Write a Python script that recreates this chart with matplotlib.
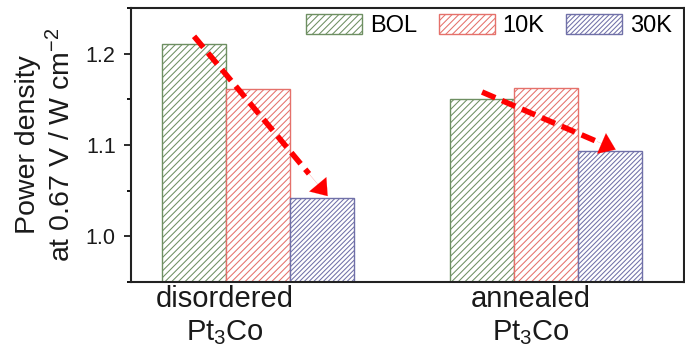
import numpy as np
import matplotlib
matplotlib.use("Agg")
import matplotlib.pyplot as plt
from matplotlib.ticker import MultipleLocator, FormatStrFormatter

plt.rcParams['font.family'] = ['Liberation Sans', 'DejaVu Sans']
plt.rcParams['mathtext.fontset'] = 'custom'
plt.rcParams['mathtext.rm'] = 'Liberation Sans'
plt.rcParams['mathtext.it'] = 'Liberation Sans:italic'
plt.rcParams['hatch.linewidth'] = 0.75

# power density at 0.67 V (W cm-2) after 0 / 10k / 30k cycles
samples = ['disordered\nPt$_3$Co', 'annealed\nPt$_3$Co']
stages = ['BOL', '10K', '30K']
bol = [1.211, 1.150]
k10 = [1.161, 1.162]
k30 = [1.042, 1.093]

colors = ['#6e8f62', '#e5716b', '#7070a8']
hatches = ['/////', '/////', '///////']
label_pos = [-0.115, 0.948]

fig = plt.figure(figsize=(6.85, 3.57), dpi=100)
ax = fig.add_axes([0.1912, 0.2101, 0.8073, 0.7675])

x = np.arange(len(samples))
w = 0.222
series = [bol, k10, k30]
for i, vals in enumerate(series):
    ax.bar(x + (i - 1) * w, vals, w, bottom=0, facecolor='white',
           edgecolor=colors[i], hatch=hatches[i], linewidth=1.0,
           label=stages[i])

# red dashed trend arrows from BOL to 30K in each group
for j in range(len(samples)):
    x0, y0 = x[j] - w, bol[j] + 0.008
    x1, y1 = x[j] + w + 0.02, k30[j] + 0.002
    fx = x0 + (x1 - x0) * 0.86
    fy = y0 + (y1 - y0) * 0.86
    ax.plot([x0, fx], [y0, fy], color='#ff0000', lw=4,
            dashes=(2.6, 1.3), solid_capstyle='butt', zorder=5)
    ax.annotate('', xy=(x1, y1), xytext=(fx, fy),
                arrowprops=dict(arrowstyle='-|>,head_length=1.1,head_width=0.8',
                                color='#ff0000', lw=0.1, shrinkA=0, shrinkB=0),
                zorder=6)

ax.set_ylim(0.95, 1.25)
ax.set_xlim(-0.441, 1.479)
ax.yaxis.set_major_locator(MultipleLocator(0.1))
ax.yaxis.set_minor_locator(MultipleLocator(0.05))
ax.yaxis.set_major_formatter(FormatStrFormatter('%.1f'))
ax.tick_params(axis='y', which='major', length=5, width=1.3, pad=6,
               labelsize=15.5, colors='#1a1a1a')
ax.tick_params(axis='y', which='minor', length=3, width=1.3)
ax.set_xticks(label_pos)
ax.set_xticklabels(samples, fontsize=21, linespacing=1.25, color='#1a1a1a')
ax.tick_params(axis='x', length=0, pad=2)

for s in ax.spines.values():
    s.set_linewidth(1.5)
    s.set_color('#222222')

ax.set_ylabel('Power density\nat 0.67 V / W cm$^{-2}$', fontsize=20.5,
              linespacing=1.25, color='#1a1a1a', labelpad=7)

ax.legend(ncol=3, frameon=False, loc='upper left',
          bbox_to_anchor=(0.316, 0.978), fontsize=17, handlelength=2.37,
          handleheight=0.93, handletextpad=0.34, columnspacing=0.92,
          borderpad=0, borderaxespad=0)

fig.savefig('out.png', dpi=100)
